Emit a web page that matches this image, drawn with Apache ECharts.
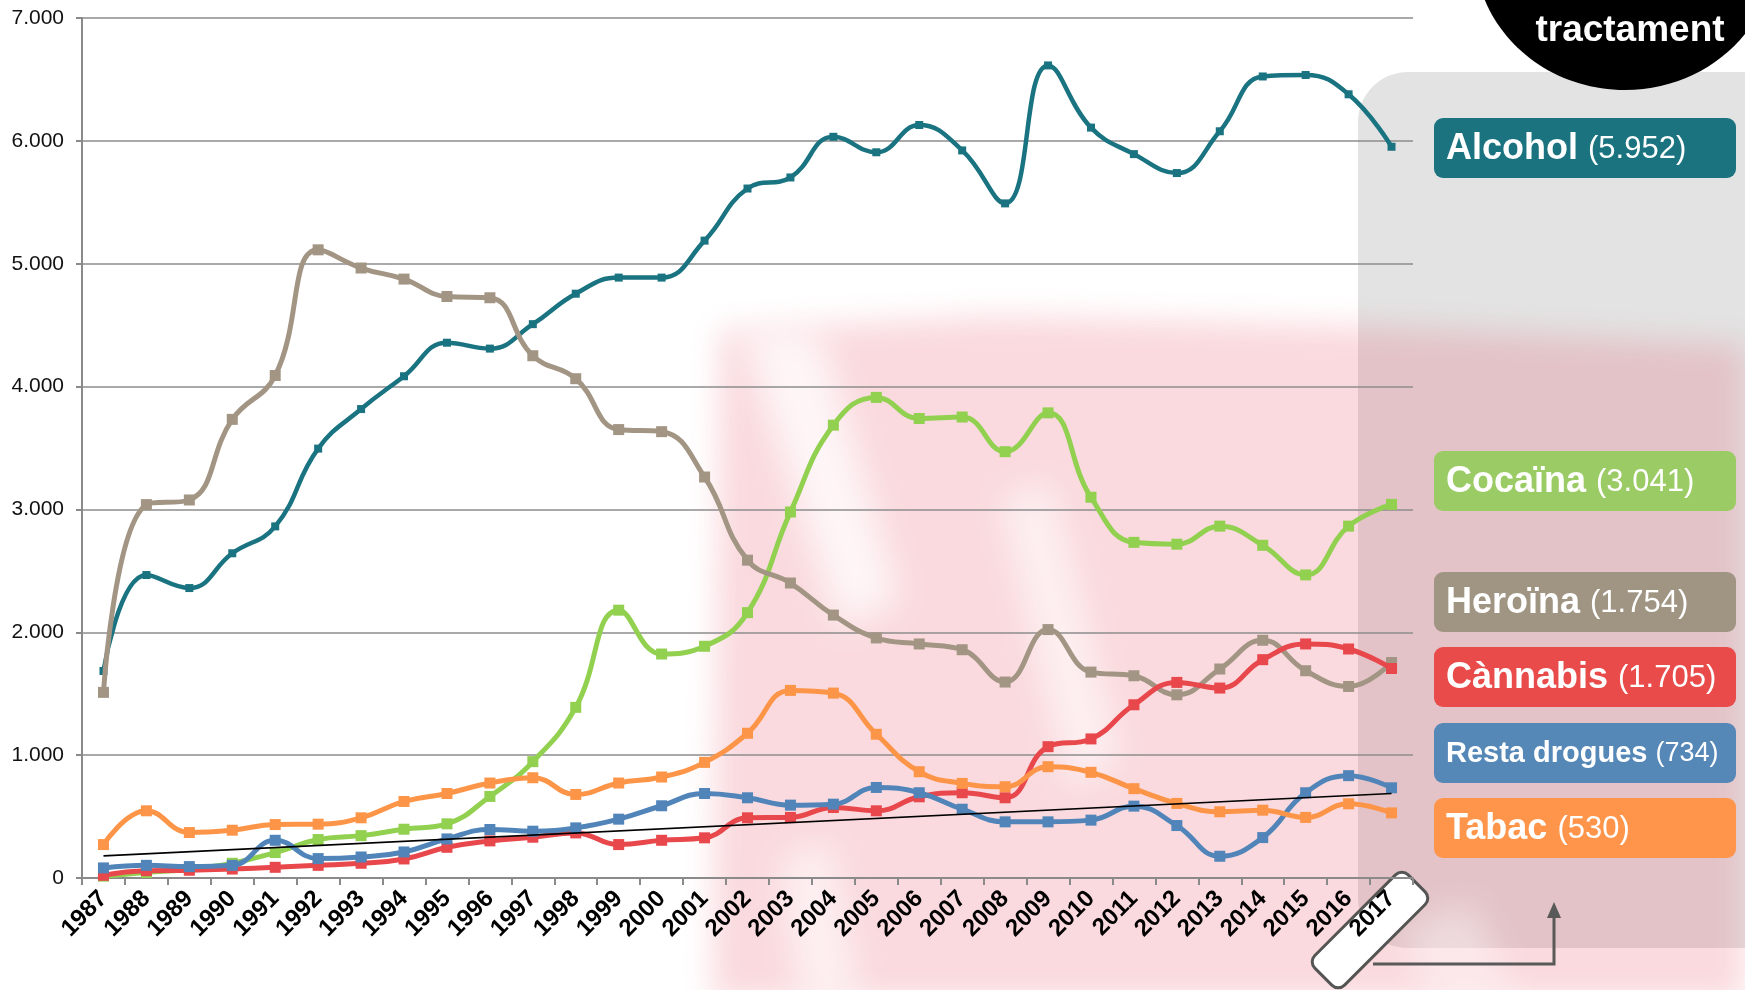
<!DOCTYPE html>
<html>
<head>
<meta charset="utf-8">
<script src="https://cdn.jsdelivr.net/npm/echarts@6.0.0/dist/echarts.min.js"></script>
<style>
  html, body { margin: 0; padding: 0; background: #fff; }
  #chart { width: 1745px; height: 990px; }
</style>
</head>
<body>
<div id="chart"></div>
<script>
// patients starting treatment, by main drug, 1987-2017
const years = ['1987', '1988', '1989', '1990', '1991', '1992', '1993', '1994', '1995', '1996',
  '1997', '1998', '1999', '2000', '2001', '2002', '2003', '2004', '2005', '2006', '2007',
  '2008', '2009', '2010', '2011', '2012', '2013', '2014', '2015', '2016', '2017'];

const alcohol = [1685, 2466, 2360, 2643, 2862, 3495, 3817, 4084, 4357, 4309, 4508, 4756, 4887, 4887,
  5188, 5612, 5702, 6033, 5907, 6129, 5922, 5491, 6614, 6108, 5892, 5738, 6078, 6524, 6536, 6379, 5952];
const cocaina = [15, 45, 70, 120, 207, 313, 345, 397, 441, 664, 947, 1389, 2180, 1823,
  1886, 2160, 2979, 3686, 3912, 3740, 3752, 3470, 3786, 3099, 2732, 2717, 2864, 2708, 2467, 2864, 3041];
const heroina = [1511, 3039, 3077, 3733, 4090, 5113, 4965, 4875, 4733, 4723, 4251, 4064, 3650, 3633,
  3264, 2587, 2401, 2140, 1954, 1905, 1858, 1595, 2022, 1676, 1646, 1491, 1701, 1935, 1687, 1559, 1754];
const cannabis = [22, 60, 63, 73, 87, 103, 120, 155, 250, 302, 332, 367, 272, 307,
  327, 490, 493, 574, 547, 661, 694, 653, 1069, 1132, 1410, 1592, 1546, 1777, 1905, 1864, 1705];
const resta = [82, 103, 93, 103, 307, 158, 171, 212, 318, 395, 381, 408, 479, 588,
  688, 653, 593, 601, 737, 694, 560, 457, 457, 471, 585, 427, 177, 329, 694, 833, 734];
const tabac = [272, 547, 370, 389, 435, 438, 490, 623, 688, 773, 816, 680, 773, 822,
  941, 1178, 1527, 1505, 1170, 865, 770, 743, 906, 860, 727, 607, 539, 552, 493, 604, 530];

// linear trend line end points (1987, 2017)
const trendEnds = [180, 688];

const yTicks = [0, 1000, 2000, 3000, 4000, 5000, 6000, 7000];

const FONT = '"Liberation Sans", Arial, sans-serif';

const fmt = (v) => {
  const s = String(Math.round(v));
  return s.replace(/\B(?=(\d{3})+(?!\d))/g, '.');
};

const drugs = [
  { name: 'Alcohol', data: alcohol, line: '#1a7380', box: '#1b7380', width: 4.5, sym: 8 },
  { name: 'Cocaïna', data: cocaina, line: '#92d050', box: '#9bcb64', width: 5, sym: 11 },
  { name: 'Heroïna', data: heroina, line: '#a39584', box: '#a09483', width: 5, sym: 11 },
  { name: 'Cànnabis', data: cannabis, line: '#e8474b', box: '#e94a4a', width: 5, sym: 11 },
  { name: 'Resta drogues', data: resta, line: '#5185b9', box: '#5587b7', width: 5, sym: 11, small: true },
  { name: 'Tabac', data: tabac, line: '#fd9548', box: '#ff954a', width: 5, sym: 11 }
];

// legend box layout on the right panel
const boxX = 1434, boxW = 302, boxH = 60;
const boxTop = [118, 451, 572, 647, 723, 798];

const chart = echarts.init(document.getElementById('chart'));

// blurred shapes: drawn off canvas, only their shadow lands on the page
const OFF = 4000;
const soft = (points, fill, shadow, blur) => ({
  type: 'polygon',
  z: -2,
  silent: true,
  x: -OFF,
  shape: { points: points },
  style: { fill: fill, shadowColor: shadow, shadowBlur: blur, shadowOffsetX: OFF }
});

const graphics = [
  // grey panel behind the legend
  {
    type: 'rect', z: -3, silent: true,
    shape: { x: 1358, y: 72, width: 460, height: 876, r: 50 },
    style: { fill: '#e3e3e3' }
  },
  // faint watermark
  soft([[720, 330], [1000, 316], [1360, 326], [1745, 345], [1745, 1000], [712, 1000]], '#e4465a', 'rgba(228,70,90,0.2)', 30),
  soft([[740, 330], [820, 330], [900, 600], [840, 630]], '#fff', 'rgba(255,255,255,0.75)', 35),
  soft([[1000, 500], [1050, 480], [1120, 760], [1070, 790]], '#fff', 'rgba(255,255,255,0.6)', 35),
  soft([[780, 860], [830, 840], [860, 1000], [800, 1000]], '#fff', 'rgba(255,255,255,0.6)', 35),
  soft([[1400, 930], [1470, 900], [1520, 1000], [1430, 1000]], '#fff', 'rgba(255,255,255,0.4)', 35),
  // black bubble with title fragment
  {
    type: 'ellipse', z: 10, silent: true,
    shape: { cx: 1625, cy: -50, rx: 150, ry: 140 },
    style: { fill: '#000' }
  },
  {
    type: 'text', z: 11, silent: true,
    style: {
      x: 1630, y: 31, text: 'tractament', font: 'bold 37px ' + FONT,
      fill: '#fff', align: 'center', verticalAlign: 'middle'
    }
  },
  // highlight around the 2017 label
  {
    type: 'rect', z: -1, silent: true,
    x: 1370, y: 930, rotation: Math.PI / 4,
    shape: { x: -66, y: -21, width: 132, height: 42, r: 9 },
    style: { fill: '#fff', stroke: '#555', lineWidth: 3 }
  },
  // arrow from 2017 to the legend
  {
    type: 'polyline', z: 10, silent: true,
    shape: { points: [[1373, 964], [1554, 964], [1554, 914]] },
    style: { stroke: '#595959', lineWidth: 3, fill: null }
  },
  {
    type: 'polygon', z: 10, silent: true,
    shape: { points: [[1554, 902], [1547, 918], [1561, 918]] },
    style: { fill: '#595959' }
  }
];

drugs.forEach((d, i) => {
  const last = d.data[d.data.length - 1];
  const top = boxTop[i];
  graphics.push({
    type: 'rect', z: 12, silent: true,
    shape: { x: boxX, y: top, width: boxW, height: boxH, r: 9 },
    style: { fill: d.box }
  });
  graphics.push({
    type: 'text', z: 13, silent: true,
    style: {
      x: boxX + 12, y: top + boxH / 2 + 1,
      text: '{b|' + d.name + ' }{v|(' + fmt(last) + ')}',
      verticalAlign: 'middle',
      rich: {
        b: { fontFamily: FONT, fontWeight: 'bold', fontSize: d.small ? 29 : 36, fill: '#fff', color: '#fff' },
        v: { fontFamily: FONT, fontSize: d.small ? 27 : 31, fill: '#fff', color: '#fff' }
      }
    }
  });
});

const series = drugs.map((d, i) => ({
  type: 'line',
  name: d.name,
  data: d.data,
  smooth: 0.45,
  symbol: 'rect',
  symbolSize: d.sym,
  showAllSymbol: true,
  lineStyle: { color: d.line, width: d.width },
  itemStyle: { color: d.line },
  z: 3 + i
}));

series.push({
  type: 'line',
  name: 'tendència',
  data: [[0, trendEnds[0]], [years.length - 1, trendEnds[1]]],
  symbol: 'none',
  lineStyle: { color: '#000', width: 1.6 },
  z: 20
});

chart.setOption({
  animation: false,
  backgroundColor: '#fff',
  textStyle: { fontFamily: FONT },
  grid: { left: 82, right: 332, top: 18, bottom: 112 },
  xAxis: {
    type: 'category',
    data: years,
    boundaryGap: true,
    axisLine: { lineStyle: { color: '#8a8a8a', width: 2 } },
    axisTick: { show: true, length: 7, lineStyle: { color: '#8a8a8a', width: 2 } },
    axisLabel: {
      rotate: 45, interval: 0, margin: 17,
      fontFamily: FONT, fontWeight: 'bold', fontSize: 24, color: '#000'
    }
  },
  yAxis: {
    type: 'value',
    min: yTicks[0],
    max: yTicks[yTicks.length - 1],
    interval: 1000,
    axisLine: { show: true, lineStyle: { color: '#8a8a8a', width: 2 } },
    axisTick: { show: true, length: 6, lineStyle: { color: '#8a8a8a', width: 2 } },
    axisLabel: { fontFamily: FONT, fontSize: 21, color: '#111', margin: 18, formatter: fmt },
    splitLine: { lineStyle: { color: '#8c8c8c', width: 1.5 } }
  },
  series: series,
  graphic: graphics
});
</script>
</body>
</html>
